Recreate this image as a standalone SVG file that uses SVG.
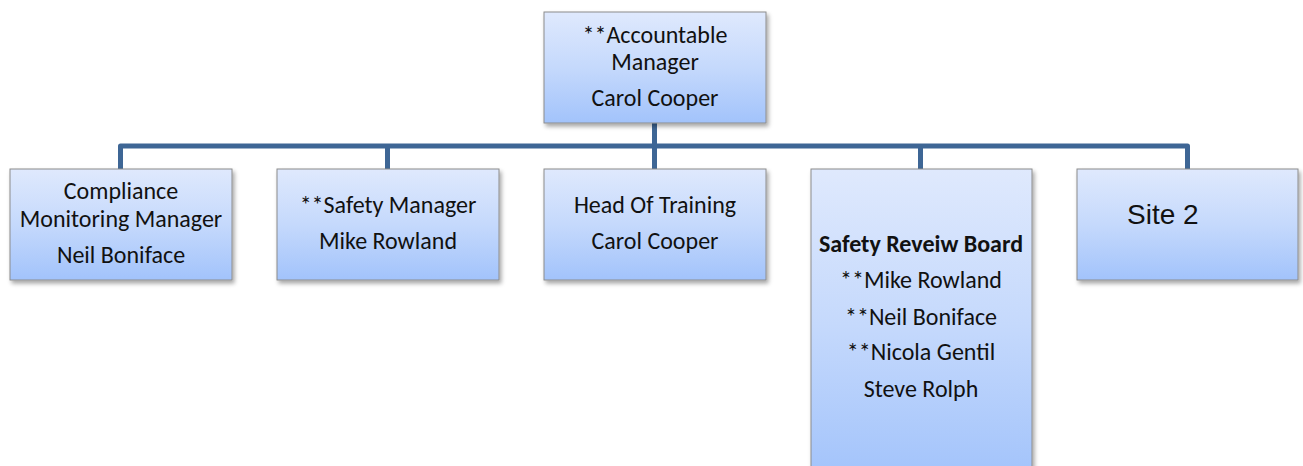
<svg xmlns="http://www.w3.org/2000/svg" width="1303" height="466" viewBox="0 0 1303 466">
<defs>
<linearGradient id="g" x1="0" y1="0" x2="0" y2="1">
<stop offset="0" stop-color="#dfe9fd"/>
<stop offset="0.5" stop-color="#c5d9fc"/>
<stop offset="1" stop-color="#a2c3fb"/>
</linearGradient>
<linearGradient id="gt" x1="0" y1="169" x2="0" y2="480" gradientUnits="userSpaceOnUse">
<stop offset="0" stop-color="#dfe9fd"/>
<stop offset="0.5" stop-color="#c5d9fc"/>
<stop offset="1" stop-color="#a2c3fb"/>
</linearGradient>
<filter id="sh" x="-10%" y="-10%" width="125%" height="130%">
<feDropShadow dx="2" dy="3" stdDeviation="2" flood-color="#000" flood-opacity="0.35"/>
</filter>
</defs>
<style>
.box{fill:url(#g);stroke:#8c8c8c;stroke-width:1;filter:url(#sh)}
.t{font-family:Carlito,"Open Sans","Liberation Sans",sans-serif;font-size:24px;fill:#111;text-anchor:middle}
.b{font-weight:bold}
.s2{font-family:"Liberation Sans",Arial,sans-serif;font-size:28px;fill:#111}
.c{fill:none;stroke:#3e6695;stroke-width:5;stroke-linejoin:round}
</style>
<g id="connectors">
<path class="c" d="M654.5 123 V146"/>
<path class="c" d="M120.5 169 V146 H1187.5 V169"/>
<path class="c" d="M387.5 146 V169"/>
<path class="c" d="M654.5 146 V169"/>
<path class="c" d="M920.5 146 V169"/>
</g>
<g id="accountable-manager">
<rect class="box" x="544" y="12" width="222" height="111"/>
<text class="t" x="655" y="43">**Accountable</text>
<text class="t" x="655" y="70">Manager</text>
<text class="t" x="655" y="106">Carol Cooper</text>
</g>
<g id="compliance-monitoring-manager">
<rect class="box" x="10" y="169" width="222" height="111"/>
<text class="t" x="121" y="199">Compliance</text>
<text class="t" x="121" y="227">Monitoring Manager</text>
<text class="t" x="121" y="263">Neil Boniface</text>
</g>
<g id="safety-manager">
<rect class="box" x="277" y="169" width="222" height="111"/>
<text class="t" x="388" y="213">**Safety Manager</text>
<text class="t" x="388" y="249">Mike Rowland</text>
</g>
<g id="head-of-training">
<rect class="box" x="544" y="169" width="222" height="111"/>
<text class="t" x="655" y="213">Head Of Training</text>
<text class="t" x="655" y="249">Carol Cooper</text>
</g>
<g id="safety-review-board">
<rect class="box" x="811" y="169" width="221" height="311" style="fill:url(#gt)"/>
<text class="t b" x="921" y="252">Safety Reveiw Board</text>
<text class="t" x="921" y="288">**Mike Rowland</text>
<text class="t" x="921" y="325">**Neil Boniface</text>
<text class="t" x="921" y="360">**Nicola Gentil</text>
<text class="t" x="921" y="397">Steve Rolph</text>
</g>
<g id="site-2">
<rect class="box" x="1077" y="169" width="221" height="111"/>
<text class="s2" x="1127" y="224">Site 2</text>
</g>
</svg>
